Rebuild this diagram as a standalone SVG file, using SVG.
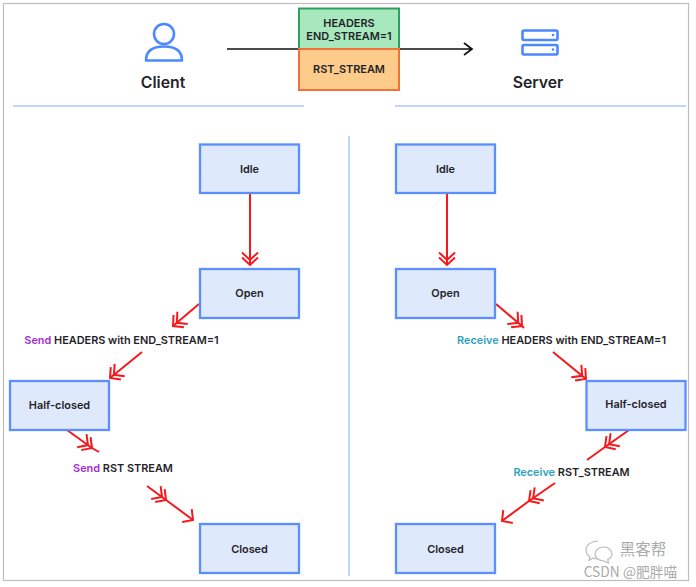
<svg xmlns="http://www.w3.org/2000/svg" width="696" height="587" viewBox="0 0 696 587">
<style>
text{font-family:Inter,"Liberation Sans",sans-serif;font-weight:600;fill:#1f2329;text-anchor:middle}
.lb{font-size:10.9px}
.box{fill:#dfe9fc;stroke:#5b8fff;stroke-width:2.3}
.sep{stroke:#bcd6ff;stroke-width:2;fill:none}
.c{stroke:#f5181c;stroke-width:2;fill:none}
.ic{stroke:#4c88ff;stroke-width:2.6;fill:none;stroke-linejoin:round}
.s{fill:#a42ed0}.r{fill:#2f9fbd}
.wm{font-family:"Noto Sans CJK SC",sans-serif;font-weight:400;fill:#aaa}
</style>
<defs>
<marker id="dbl" markerUnits="userSpaceOnUse" markerWidth="24" markerHeight="24" refX="20" refY="12" orient="auto" viewBox="0 0 24 24">
<path d="M12.500 4 L20 12 L12.500 20 M7.500 4 L15 12 L7.500 20" fill="none" stroke="#f5181c" stroke-width="2"/>
</marker>
<marker id="one" markerUnits="userSpaceOnUse" markerWidth="24" markerHeight="24" refX="20" refY="12" orient="auto" viewBox="0 0 24 24">
<path d="M12.500 4 L20 12 L12.500 20" fill="none" stroke="#f5181c" stroke-width="2"/>
</marker>
</defs>
<rect width="696" height="587" fill="#fff"/>
<rect x="3.500" y="3.500" width="685" height="577" fill="#fff" stroke="#bdbdbd" stroke-width="1.200"/>
<path class="sep" d="M13 106H304M395 106H686M349 136V576"/>
<g id="connectors">
<path d="M227 49H472M464 43L472 49L464 55" fill="none" stroke="#111" stroke-width="1.700"/>
<path class="c" marker-end="url(#dbl)" d="M250 194V265"/>
<path class="c" marker-end="url(#dbl)" d="M447 194V265"/>
<path class="c" marker-end="url(#dbl)" d="M199 304L173 326"/>
<path class="c" marker-end="url(#dbl)" d="M142 352L110 378"/>
<path class="c" marker-end="url(#dbl)" d="M67 430L92 448"/><path class="c" d="M92 448L99 452"/>
<path class="c" marker-end="url(#dbl)" d="M147 486L166 500"/><path class="c" marker-end="url(#one)" d="M166 500L193 520"/>
<path class="c" marker-end="url(#dbl)" d="M496 304L522 326"/><path class="c" d="M522 326L524 328"/>
<path class="c" marker-end="url(#dbl)" d="M553 352L586 379"/>
<path class="c" marker-end="url(#dbl)" d="M629 430L605 447"/><path class="c" d="M605 447L587 460"/>
<path class="c" marker-end="url(#dbl)" d="M555 483L529 501"/><path class="c" marker-end="url(#one)" d="M529 501L502 521"/>
</g>
<g id="client"><circle class="ic" cx="164" cy="34" r="10"/><path class="ic" d="M146 60.500C146 50 154 46.500 164 46.500C174 46.500 182 50 182 60.500Z"/><text x="163" y="87.500" font-size="15.800">Client</text></g>
<g id="server"><rect class="ic" x="522.500" y="30.500" width="35" height="9.500" rx="1.500"/><rect class="ic" x="522.500" y="45" width="35" height="9.500" rx="1.500"/><circle cx="553" cy="35" r="1.300" fill="#4c88ff"/><circle cx="553" cy="49.500" r="1.300" fill="#4c88ff"/><text x="538" y="87.500" font-size="15.800">Server</text></g>
<g id="headers"><rect x="299" y="8.500" width="100" height="40.500" fill="#a8e8bd" stroke="#2f9e5f" stroke-width="2"/><text class="lb" x="349" y="27">HEADERS</text><text class="lb" x="349" y="40">END_STREAM=1</text></g>
<g id="rst"><rect x="299" y="49" width="100" height="41" fill="#fdcb8a" stroke="#f4703a" stroke-width="2"/><text class="lb" x="349" y="73">RST_STREAM</text></g>
<g id="c-idle"><rect class="box" x="200" y="144.500" width="99" height="48.500"/><text class="lb" x="249.500" y="173">Idle</text></g>
<g id="c-open"><rect class="box" x="200" y="269" width="99" height="49"/><text class="lb" x="249.500" y="297">Open</text></g>
<g id="c-half"><rect class="box" x="10" y="381" width="99" height="49"/><text class="lb" x="59.500" y="409">Half-closed</text></g>
<g id="c-closed"><rect class="box" x="200" y="524" width="99" height="49"/><text class="lb" x="249.500" y="553">Closed</text></g>
<g id="s-idle"><rect class="box" x="396" y="144.500" width="99" height="48.500"/><text class="lb" x="445.500" y="173">Idle</text></g>
<g id="s-open"><rect class="box" x="396" y="269" width="99" height="49"/><text class="lb" x="445.500" y="297">Open</text></g>
<g id="s-half"><rect class="box" x="586.500" y="381" width="99" height="49"/><text class="lb" x="636" y="408">Half-closed</text></g>
<g id="s-closed"><rect class="box" x="396" y="524" width="99" height="49"/><text class="lb" x="445.500" y="553">Closed</text></g>
<g id="labels">
<text class="lb" x="121.500" y="344"><tspan class="s">Send</tspan> HEADERS with END_STREAM=1</text>
<text class="lb" x="123" y="472"><tspan class="s">Send</tspan> RST STREAM</text>
<text class="lb" x="561.500" y="344"><tspan class="r">Receive</tspan> HEADERS with END_STREAM=1</text>
<text class="lb" x="571.500" y="476"><tspan class="r">Receive</tspan> RST_STREAM</text>
</g>
<g id="watermark">
<path d="M598 541c-7 0-12 4-12 9 0 3 1.500 5 4 7l-1 3.500 4-2.500c1 .5 3 1 4.500 1" fill="none" stroke="#bbb" stroke-width="1.200"/>
<path d="M604 547c-5.500 0-9 3.500-9 7s3.500 7 9 7l4.500 2-.8-3.500c2.500-1 4.300-3 4.300-5.500 0-3.500-3.500-7-8-7z" fill="none" stroke="#bbb" stroke-width="1.200"/>
<text class="wm" x="643" y="554.500" font-size="15.500">黑客帮</text>
<text class="wm" x="630.500" y="576.500" font-size="13.800">CSDN @肥胖喵</text>
</g>
</svg>
